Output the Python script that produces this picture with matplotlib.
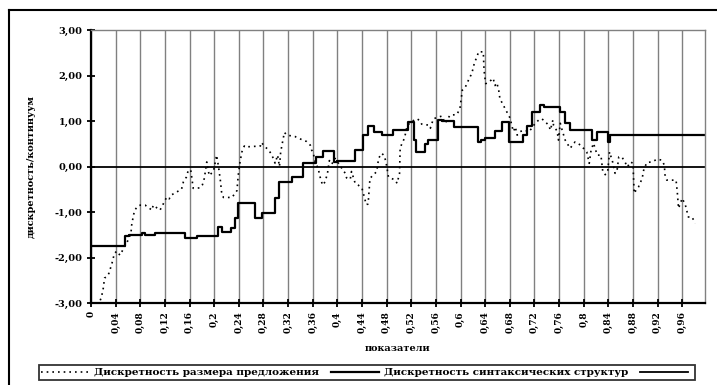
import matplotlib
matplotlib.use('Agg')
import matplotlib.pyplot as plt
from matplotlib.lines import Line2D

# dotted series: discreteness of sentence size
sent_x = [0.015, 0.017, 0.020, 0.022, 0.025, 0.029, 0.034, 0.038, 0.042, 0.047,
          0.061, 0.065, 0.066, 0.069, 0.071, 0.076, 0.080, 0.088, 0.099, 0.101,
          0.107, 0.112, 0.119, 0.123, 0.127, 0.130, 0.147, 0.150, 0.155, 0.158,
          0.162, 0.166, 0.177, 0.181, 0.184, 0.188, 0.192, 0.199, 0.204, 0.207,
          0.210, 0.212, 0.215, 0.229, 0.237, 0.239, 0.242, 0.245, 0.249, 0.250,
          0.275, 0.277, 0.281, 0.288, 0.292, 0.296, 0.299, 0.303, 0.306, 0.308,
          0.311, 0.314, 0.318, 0.331, 0.337, 0.350, 0.356, 0.358, 0.361, 0.364,
          0.369, 0.372, 0.376, 0.380, 0.384, 0.387, 0.391, 0.396, 0.404, 0.409,
          0.413, 0.415, 0.421, 0.423, 0.429, 0.434, 0.440, 0.443, 0.447, 0.450,
          0.453, 0.464, 0.467, 0.472, 0.476, 0.479, 0.483, 0.494, 0.497, 0.501,
          0.502, 0.505, 0.509, 0.513, 0.517, 0.521, 0.529, 0.534, 0.537, 0.548,
          0.551, 0.556, 0.570, 0.575, 0.583, 0.594, 0.599, 0.603, 0.608, 0.614,
          0.617, 0.619, 0.623, 0.627, 0.629, 0.637, 0.638, 0.639, 0.641, 0.650,
          0.653, 0.656, 0.659, 0.662, 0.664, 0.681, 0.683, 0.686, 0.689, 0.692,
          0.697, 0.705, 0.710, 0.716, 0.721, 0.727, 0.732, 0.737, 0.743, 0.746,
          0.750, 0.751, 0.757, 0.759, 0.762, 0.765, 0.770, 0.778, 0.786, 0.795,
          0.805, 0.809, 0.812, 0.816, 0.822, 0.828, 0.831, 0.835, 0.839, 0.842,
          0.847, 0.851, 0.854, 0.857, 0.862, 0.867, 0.871, 0.876, 0.880, 0.882,
          0.885, 0.889, 0.895, 0.898, 0.903, 0.911, 0.919, 0.927, 0.931, 0.932,
          0.935, 0.950, 0.952, 0.954, 0.960, 0.965, 0.970, 0.976, 0.981]
sent_y = [-2.94, -2.87, -2.67, -2.45, -2.43, -2.35, -2.13, -1.91, -1.86, -1.95,
          -1.60, -1.45, -1.29, -1.07, -0.96, -0.87, -0.85, -0.85, -0.96, -0.85,
          -0.91, -0.96, -0.78, -0.67, -0.71, -0.63, -0.50, -0.34, -0.23, -0.08,
          -0.08, -0.48, -0.47, -0.40, -0.26, 0.10, -0.20, -0.10, 0.25, 0.00,
          -0.30, -0.56, -0.68, -0.68, -0.53, -0.20, 0.10, 0.32, 0.45, 0.43,
          0.45, 0.53, 0.45, 0.37, 0.29, 0.18, 0.07, 0.25, 0.00, 0.32,
          0.53, 0.75, 0.69, 0.66, 0.62, 0.55, 0.47, 0.37, 0.29, 0.10,
          -0.05, -0.23, -0.41, -0.34, -0.15, 0.13, 0.05, 0.18, 0.03, -0.08,
          -0.15, -0.25, -0.28, -0.11, -0.37, -0.41, -0.48, -0.63, -0.84, -0.82,
          -0.26, -0.11, 0.18, 0.29, 0.24, 0.10, -0.23, -0.30, -0.37, -0.15,
          0.40, 0.51, 0.62, 0.87, 0.95, 0.99, 1.05, 1.01, 0.93, 0.91,
          0.84, 1.05, 1.11, 0.95, 1.13, 1.14, 1.27, 1.68, 1.75, 1.93,
          2.01, 2.08, 2.30, 2.41, 2.52, 2.52, 2.19, 2.01, 1.82, 1.90,
          1.94, 1.78, 1.84, 1.68, 1.49, 1.05, 0.91, 0.77, 0.87, 0.69,
          0.77, 0.80, 0.76, 0.84, 0.95, 1.02, 1.05, 0.99, 0.91, 0.80,
          1.02, 0.91, 0.77, 0.58, 0.95, 0.80, 0.58, 0.40, 0.54, 0.47,
          0.32, 0.07, 0.36, 0.51, 0.25, 0.25, -0.11, -0.18, -0.11, 0.32,
          0.10, -0.15, -0.11, 0.21, 0.21, 0.10, -0.01, 0.10, 0.07, -0.59,
          -0.52, -0.45, -0.26, -0.04, 0.09, 0.10, 0.16, 0.14, 0.03, -0.18,
          -0.30, -0.30, -0.56, -0.92, -0.70, -0.84, -1.11, -1.11, -1.25]

# solid series: discreteness of syntactic structures (step levels)
synt_x = [0.0, 0.055, 0.061, 0.083, 0.088, 0.104, 0.153, 0.172, 0.206, 0.212,
          0.227, 0.234, 0.239, 0.266, 0.277, 0.299, 0.306, 0.326, 0.344, 0.366,
          0.377, 0.394, 0.399, 0.429, 0.442, 0.450, 0.459, 0.472, 0.491, 0.515,
          0.524, 0.527, 0.543, 0.548, 0.564, 0.570, 0.589, 0.629, 0.634, 0.640,
          0.656, 0.667, 0.678, 0.702, 0.708, 0.716, 0.729, 0.735, 0.762, 0.770,
          0.778, 0.813, 0.821, 0.839, 0.843, 0.997]
synt_y = [-1.75, -1.53, -1.51, -1.47, -1.51, -1.47, -1.57, -1.53, -1.33, -1.44,
          -1.36, -1.13, -0.80, -1.13, -1.03, -0.70, -0.34, -0.24, 0.07, 0.21,
          0.34, 0.10, 0.11, 0.36, 0.69, 0.89, 0.76, 0.69, 0.80, 0.97,
          0.58, 0.32, 0.50, 0.59, 1.02, 1.00, 0.86, 0.53, 0.58, 0.62,
          0.77, 0.97, 0.54, 0.69, 0.89, 1.19, 1.36, 1.31, 1.20, 0.95,
          0.80, 0.59, 0.75, 0.53, 0.69, 0.69]

x_ticks = [0, 0.04, 0.08, 0.12, 0.16, 0.2, 0.24, 0.28, 0.32, 0.36, 0.4, 0.44,
           0.48, 0.52, 0.56, 0.6, 0.64, 0.68, 0.72, 0.76, 0.8, 0.84, 0.88, 0.92, 0.96]
x_labels = ['0', '0,04', '0,08', '0,12', '0,16', '0,2', '0,24', '0,28', '0,32',
            '0,36', '0,4', '0,44', '0,48', '0,52', '0,56', '0,6', '0,64', '0,68',
            '0,72', '0,76', '0,8', '0,84', '0,88', '0,92', '0,96']
y_ticks = [3, 2, 1, 0, -1, -2, -3]
y_labels = ['3,00', '2,00', '1,00', '0,00', '-1,00', '-2,00', '-3,00']

plt.rcParams['font.family'] = ['DejaVu Serif']
fig = plt.figure(figsize=(7.17, 3.85), dpi=100)
ax = fig.add_axes([91/717, 82/385, 614/717, 273/385])

p1, = ax.plot(sent_x, sent_y, color='black', lw=1.2, linestyle=(0, (1, 2.4)),
              label='Дискретность размера предложения')
p2, = ax.plot(synt_x, synt_y, color='black', lw=1.6, drawstyle='steps-post',
              label='Дискретность синтаксических структур')
p3 = ax.axhline(0, color='black', lw=1.3)

ax.set_xlim(0, 0.997)
ax.set_ylim(-3, 3)
ax.set_xticks(x_ticks)
ax.set_xticklabels(x_labels, rotation=90, fontsize=6.5, fontweight='bold')
ax.set_yticks(y_ticks)
ax.set_yticklabels(y_labels, fontsize=7, fontweight='bold')
ax.tick_params(direction='inout', length=6, width=1.3, color='black', pad=3)
ax.grid(True, axis='x', color='#808080', lw=1)
ax.set_axisbelow(True)
for s in ['top', 'right']:
    ax.spines[s].set_color('#808080')
    ax.spines[s].set_linewidth(1)
for s in ['left', 'bottom']:
    ax.spines[s].set_linewidth(1.6)

ax.set_xlabel('показатели', fontsize=7, fontweight='bold', labelpad=8)
ax.set_ylabel('дискретность/континуум', fontsize=7, fontweight='bold', labelpad=14)

# outer chart frame (cut off at right and bottom)
fig.add_artist(Line2D([9/717, 9/717], [0, 1 - 10/385], color='black', lw=1.5))
fig.add_artist(Line2D([9/717, 1], [1 - 10/385, 1 - 10/385], color='black', lw=1.5))

leg = fig.legend([p1, p2, p3], [p1.get_label(), p2.get_label(), ''],
                 loc='center', bbox_to_anchor=(367/717, 0.032), ncol=3,
                 frameon=True, fancybox=False, edgecolor='black',
                 handlelength=4.6, columnspacing=1.1, handletextpad=0.5,
                 borderpad=0.25, prop={'weight': 'bold', 'size': 7.5})
leg.get_frame().set_linewidth(1.3)

fig.savefig('out.png', dpi=100)
